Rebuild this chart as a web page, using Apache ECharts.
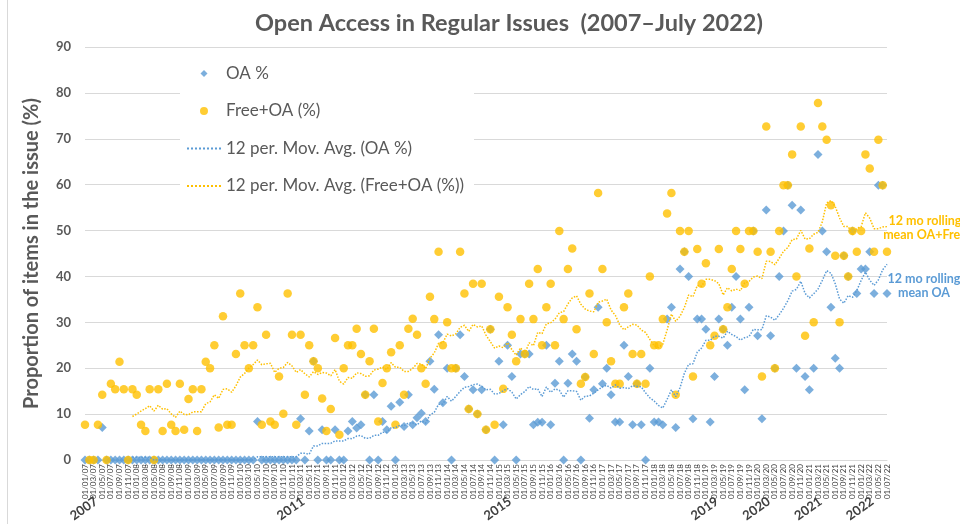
<!DOCTYPE html>
<html>
<head>
<meta charset="utf-8">
<script src="https://cdn.jsdelivr.net/npm/echarts@6/dist/echarts.min.js"></script>
<style>
  html, body { margin: 0; padding: 0; background: #fff; }
  #chart { width: 960px; height: 524px; }
</style>
</head>
<body>
<div id="chart"></div>
<script>
// monthly issues, Jan 2007 .. Jul 2022 (x = months since Jan 2007)
const startYear = 2007
const yearLabels = [2007, 2011, 2015, 2019, 2020, 2021, 2022]

// OA % per issue, one row per year
const oaPct = [
  0, 0, 0, 0, 7.1, 0, 0, 0, 0, 0, 0, 0,
  0, 0, 0, 0, 0, 0, 0, 0, 0, 0, 0, 0,
  0, 0, 0, 0, 0, 0, 0, 0, 0, 0, 0, 0,
  0, 0, 0, 0, 8.4, 0, 0, 0, 0, 0, 0, 0,
  0, 0, 9.0, 0, 6.3, 21.5, 0, 6.6, 0, 0, 6.6, 0,
  0, 6.3, 8.4, 7.0, 7.7, 14.2, 0, 14.2, 0, 8.4, 6.6, 11.7,
  0, 12.6, 7.3, 14.2, 7.7, 9.2, 10.2, 8.4, 21.5, 15.4, 27.3, 12.5,
  20.0, 0, 20.0, 27.3, 18.2, 11.1, 15.3, 10.0, 15.3, 6.6, 28.5, 0,
  21.5, 7.7, 25.0, 18.2, 0, 23.1, 23.1, 23.1, 7.7, 8.2, 8.2, 25.0,
  7.7, 16.7, 21.5, 0, 16.7, 23.1, 21.5, 0, 18.1, 9.1, 15.3, 33.3,
  16.6, 20.0, 14.2, 8.3, 8.3, 25.0, 18.2, 7.7, 16.6, 7.7, 0, 20.0,
  8.3, 8.3, 7.7, 30.7, 33.3, 7.1, 41.6, 45.4, 40.0, 9.0, 30.7, 30.7,
  28.5, 8.3, 18.2, 30.7, 28.5, 25.0, 33.3, 40.0, 30.7, 15.3, 33.3, 49.9,
  27.1, 9.0, 54.5, 27.1, 20.0, 40.0, 49.9, 59.9, 55.5, 20.0, 54.5, 18.2,
  15.3, 20.0, 66.6, 49.9, 45.4, 33.3, 22.2, 20.0, 44.5, 40.0, 49.9, 36.3,
  41.6, 41.6, 45.4, 36.3, 59.9, 59.9, 36.3
]

// Free+OA % per issue
const freeOaPct = [
  7.7, 0, 0, 7.7, 14.2, 0, 16.6, 15.4, 21.4, 15.4, 0, 15.4,
  14.2, 7.7, 6.3, 15.4, 0, 15.4, 6.3, 16.6, 7.7, 6.3, 16.6, 6.6,
  13.3, 15.4, 6.3, 15.4, 21.4, 20.0, 25.0, 7.1, 31.3, 7.7, 7.7, 23.1,
  36.3, 25.0, 20.0, 25.0, 33.3, 7.7, 27.3, 8.4, 7.7, 18.2, 10.1, 36.3,
  27.3, 7.7, 27.3, 14.2, 25.0, 21.5, 20.0, 13.4, 6.3, 11.1, 26.6, 5.5,
  20.0, 25.0, 25.0, 28.6, 23.1, 14.2, 21.5, 28.6, 8.4, 16.8, 20.0, 23.5,
  7.7, 25.0, 14.2, 28.6, 30.8, 27.3, 20.0, 16.6, 35.6, 30.7, 45.4, 25.0,
  30.0, 20.0, 20.0, 45.4, 36.3, 11.1, 38.4, 10.0, 38.4, 6.6, 28.5, 7.7,
  35.6, 15.5, 33.3, 27.3, 21.5, 30.7, 23.1, 38.4, 30.7, 41.6, 25.0, 33.3,
  38.4, 25.0, 49.9, 30.7, 41.6, 46.1, 28.5, 16.6, 18.1, 36.3, 23.1, 58.2,
  41.6, 30.0, 21.5, 16.6, 16.6, 33.3, 36.3, 23.1, 16.6, 23.1, 16.6, 40.0,
  25.0, 25.0, 30.7, 53.7, 58.2, 14.2, 49.9, 45.4, 49.9, 18.2, 46.0, 38.4,
  42.9, 25.0, 27.1, 46.0, 28.5, 33.3, 41.6, 49.9, 46.0, 38.4, 49.9, 49.9,
  45.4, 18.2, 72.7, 45.4, 20.0, 49.9, 59.9, 59.9, 66.6, 40.0, 72.7, 27.1,
  46.1, 30.0, 77.8, 72.7, 69.8, 55.5, 44.5, 30.0, 44.5, 40.0, 49.9, 45.4,
  49.9, 66.6, 63.5, 45.4, 69.8, 59.9, 45.4
]

const FONT = 'Lato, "Open Sans", sans-serif'
const BLUE = '#5B9BD5'
const GOLD = '#FFC000'
const GREY = '#595959'

// excel style trendline: 12 period moving average
function movingAvg(arr, n) {
  let out = []
  for (let i = n - 1; i < arr.length; i++) {
    let s = 0
    for (let k = i - n + 1; k <= i; k++) s += arr[k]
    out.push([i, s / n])
  }
  return out
}

function pad(n) { return (n < 10 ? '0' : '') + n }
function monthLabel(v) {
  let m = v % 12 + 1
  let y = startYear + Math.floor(v / 12)
  return '01/' + pad(m) + '/' + pad(y % 100)
}

// legend marks sit in the middle of a 34px wide slot, like the line samples
const diamondIcon = 'path://M0,0 M34,9 M17,1 L20.5,4.5 L17,8 L13.5,4.5 Z'
const circleIcon = 'path://M0,0 M34,9 M17,0.5 A4,4 0 1,1 16.99,0.5 Z'

let chart = echarts.init(document.getElementById('chart'))
chart.setOption({
  animation: false,
  title: {
    text: 'Open Access in Regular Issues  (2007\u2013July 2022)',
    left: 250, top: 6,
    textStyle: {fontFamily: FONT, fontSize: 23.5, fontWeight: 'bold', color: GREY}
  },
  legend: {
    orient: 'vertical',
    left: 180, top: 59,
    backgroundColor: '#fff',
    padding: [6, 10, 6, 6],
    itemWidth: 34, itemHeight: 9,
    itemGap: 20.5,
    textStyle: {fontFamily: FONT, fontSize: 17, color: GREY},
    data: [
      {name: 'OA %', icon: diamondIcon},
      {name: 'Free+OA (%)', icon: circleIcon},
      {name: '12 per. Mov. Avg. (OA %)', itemStyle: {opacity: 0}},
      {name: '12 per. Mov. Avg. (Free+OA (%))', itemStyle: {opacity: 0}}
    ]
  },
  grid: {left: 85, right: 73, top: 47, bottom: 64, containLabel: false},
  xAxis: {
    type: 'value',
    min: 0, max: 186, interval: 2,
    axisLine: {lineStyle: {color: '#d9d9d9'}},
    axisTick: {show: false},
    splitLine: {show: false},
    axisLabel: {
      rotate: 90, margin: 4, hideOverlap: false,
      fontFamily: FONT, fontSize: 8, color: '#404040',
      formatter: v => monthLabel(v)
    }
  },
  yAxis: {
    type: 'value',
    min: 0, max: 90, interval: 10,
    name: 'Proportion of items in the issue (%)',
    nameLocation: 'middle', nameGap: 43,
    nameTextStyle: {fontFamily: FONT, fontSize: 20, fontWeight: 'bold', color: GREY},
    axisLine: {show: false},
    axisTick: {show: false},
    splitLine: {lineStyle: {color: '#d9d9d9'}},
    axisLabel: {fontFamily: FONT, fontSize: 13, fontWeight: 'bold', color: GREY, margin: 14}
  },
  series: [
    {
      name: 'OA %', type: 'scatter', symbol: 'diamond', symbolSize: 9,
      itemStyle: {color: BLUE},
      data: oaPct.map((v, i) => [i, v])
    },
    {
      name: 'Free+OA (%)', type: 'scatter', symbol: 'circle', symbolSize: 8.5,
      itemStyle: {color: GOLD},
      data: freeOaPct.map((v, i) => [i, v])
    },
    {
      name: '12 per. Mov. Avg. (OA %)', type: 'line', showSymbol: false, symbol: 'none',
      lineStyle: {color: BLUE, width: 1.5, type: 'dotted'},
      itemStyle: {color: BLUE},
      data: movingAvg(oaPct, 12)
    },
    {
      name: '12 per. Mov. Avg. (Free+OA (%))', type: 'line', showSymbol: false, symbol: 'none',
      lineStyle: {color: GOLD, width: 1.5, type: 'dotted'},
      itemStyle: {color: GOLD},
      data: movingAvg(freeOaPct, 12)
    }
  ]
})

// year labels under the month ticks + trend notes
let extra = []
yearLabels.forEach(y => {
  let p = chart.convertToPixel({xAxisIndex: 0, yAxisIndex: 0}, [(y - startYear) * 12 + 2.6, 0])
  extra.push({
    type: 'text', x: p[0], y: p[1] + 40, rotation: 35 * Math.PI / 180,
    style: {text: String(y), align: 'right', verticalAlign: 'middle',
      font: 'bold 13px ' + FONT, fill: '#404040'}
  })
})
extra.push({
  type: 'text', x: 925, y: 228,
  style: {text: '12 mo rolling\nmean OA+Free', align: 'center', verticalAlign: 'middle',
    font: 'bold 12.5px ' + FONT, fill: GOLD, lineHeight: 14}
})
extra.push({
  type: 'text', x: 924, y: 286,
  style: {text: '12 mo rolling\nmean OA', align: 'center', verticalAlign: 'middle',
    font: 'bold 12.5px ' + FONT, fill: BLUE, lineHeight: 14}
})
extra.push({
  type: 'line', shape: {x1: 7.5, y1: 0, x2: 7.5, y2: 524},
  style: {stroke: '#d9d9d9', lineWidth: 1}
})
chart.setOption({graphic: extra})
</script>
</body>
</html>
